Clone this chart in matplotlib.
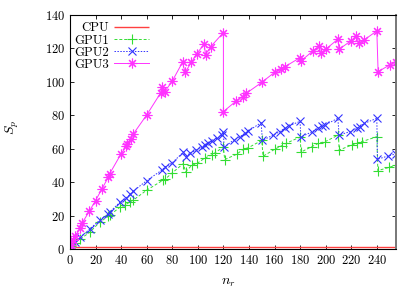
import numpy as np
import matplotlib
matplotlib.use("Agg")
import matplotlib.pyplot as plt

plt.rcParams['font.family'] = 'serif'
plt.rcParams['font.serif'] = ['cmr10']
plt.rcParams['mathtext.fontset'] = 'cm'
plt.rcParams['axes.formatter.use_mathtext'] = True

# speedup data
cpu_n = [0, 255]
cpu_s = [1, 1]

gpu1_n = [0, 1, 4, 8, 15.5, 23.5, 30, 31.3, 39, 43, 47, 49.6, 60, 73, 74.3, 79.6,
          88.5, 90.5, 95.2, 99.5, 105.3, 110.9, 113.5, 120, 121, 130.4, 135.6, 139.5,
          150, 151, 160.4, 165.6, 169, 180, 180.7, 189, 194.3, 199.5, 210, 210.5,
          220.4, 224.3, 228.2, 240, 240.8, 249.9, 255.6]
gpu1_s = [0, 1.5, 3.8, 6, 10, 16.3, 19.5, 20.3, 25, 26.3, 28.2, 29.3, 35.2, 41.3, 41.7, 45.3,
          51, 46.3, 50, 51.3, 54.3, 56.3, 57.6, 61, 53.5, 56.7, 59.7, 60.6,
          65, 55.5, 59.8, 61.8, 63.2, 67, 58, 61.2, 63.2, 64.2, 68.2, 59.2,
          62.2, 63.2, 64.2, 67.2, 46.9, 48.9, 50.3]

gpu2_n = [0, 1, 4, 8, 15.5, 23.5, 30, 31.3, 39, 43.6, 47, 49.6, 60, 72, 74, 79.6,
          88.7, 90.5, 94, 98.5, 103, 105.6, 108.3, 111, 115, 118.7, 120, 120.5,
          128, 133, 137, 139.5, 149.5, 150.5, 159, 164, 168, 171, 180, 180.5,
          189, 194, 197, 199.5, 209.5, 210.5, 219, 224.3, 227, 230.3, 240, 240.5,
          249, 255]
gpu2_s = [0.5, 1.5, 4.4, 7, 12, 17.4, 21, 22.3, 27.9, 30.3, 32.7, 34.7, 40.9, 47.3, 48.9, 51.3,
          58, 55.3, 57.5, 59, 61, 62.2, 63.5, 64.5, 66.2, 68.2, 70.2, 60.8,
          65.2, 67.2, 69.2, 70.6, 75.6, 65, 68.2, 70.2, 72.2, 73.6, 76.4, 67,
          70, 72.2, 73.6, 74.2, 78.2, 68.2, 70.2, 72.2, 73.2, 75.2, 78.2, 53.7,
          55.7, 56.9]

gpu3_n = [0, 1, 2.5, 4, 8, 9.5, 15, 20, 25, 30, 31, 40, 44, 44.5, 47.5, 49.5,
          60, 71, 72, 74, 80, 88, 90, 95, 99, 105, 106, 110, 120, 120,
          130, 135, 138, 150, 160, 165, 168, 180, 181, 190, 195, 196, 200,
          209.5, 210.5, 220, 224, 226, 230, 240, 241, 250, 255]
gpu3_s = [1, 2.4, 5.4, 7.6, 12.5, 15.5, 22.5, 29, 36, 43, 45, 57, 61.5, 63, 66, 68.8,
          80.2, 93.5, 96.8, 94, 100.5, 111.7, 105.7, 111.7, 116.8, 122.5, 116.3, 121, 129.5, 82.2,
          88.6, 91.2, 93.2, 99.7, 105.7, 107.5, 109, 114.5, 112.7, 118.5, 121.7, 117.1, 119.5,
          125.5, 119.5, 124.7, 127.7, 123.1, 125, 130.5, 106.1, 110.1, 112.1]

fig = plt.figure(figsize=(4.15, 2.91), dpi=100)
ax = fig.add_axes([70 / 415, 1 - 249 / 291, 326 / 415, 234 / 291])

ax.plot(cpu_n, cpu_s, color='#ff4040', lw=1.0, solid_capstyle='butt', label='CPU')
ax.plot(gpu1_n, gpu1_s, color='#33dd33', lw=0.7, ls=(0, (3, 2)),
        marker='+', ms=7, mew=0.8, label='GPU1')
ax.plot(gpu2_n, gpu2_s, color='#3333ff', lw=0.7, ls=(0, (1.5, 1.5)),
        marker='x', ms=5.5, mew=0.8, label='GPU2')
ax.plot(gpu3_n, gpu3_s, color='#ff33ff', lw=0.7, ls='-',
        marker=(8, 2, 0), ms=7, mew=0.8, label='GPU3')

ax.set_xlim(0, 255)
ax.set_ylim(0, 140)
ax.set_xticks(np.arange(0, 241, 20))
ax.set_yticks(np.arange(0, 141, 20))
ax.tick_params(direction='in', top=True, right=True, labelsize=9, length=3, width=0.6)
for sp in ax.spines.values():
    sp.set_linewidth(0.8)
ax.spines['right'].set_color('#777777')
ax.spines['right'].set_linewidth(1.4)

ax.set_xlabel('$n_r$', fontsize=10)
ax.set_ylabel('$S_p$', fontsize=10)
ax.xaxis.set_label_coords(0.485, -0.12)
ax.yaxis.set_label_coords(-0.15, 0.52)

ax.legend(loc='upper left', bbox_to_anchor=(0, 0.985), frameon=False,
          markerfirst=False, fontsize=9.2, handlelength=2.7, labelspacing=0.0,
          borderaxespad=0.1, borderpad=0.2, handletextpad=0.45)

fig.savefig('out.png', dpi=100)
